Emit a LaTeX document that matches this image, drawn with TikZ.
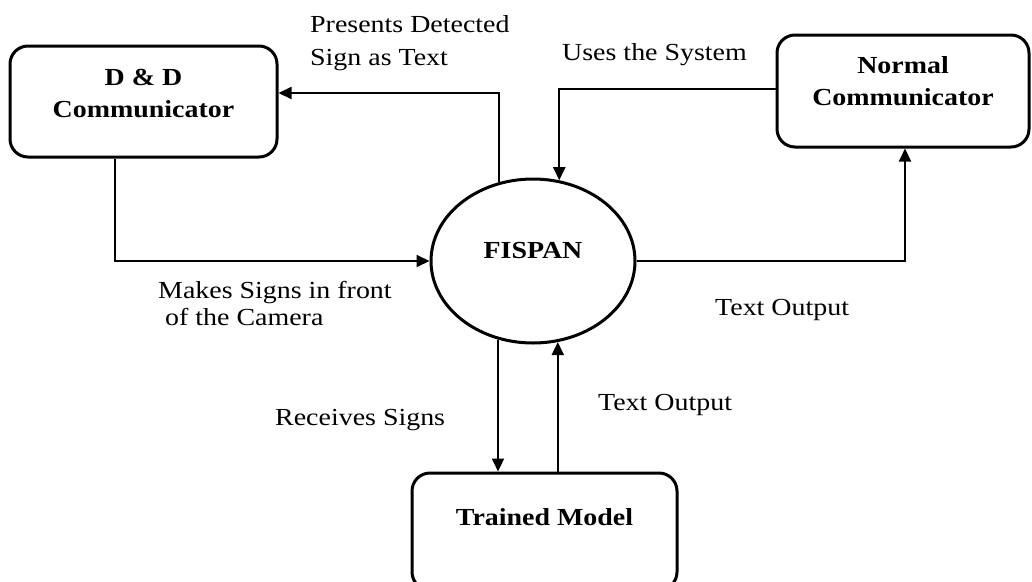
\documentclass[tikz,border=0pt]{standalone}
\usepackage{fontspec}
\setmainfont{Liberation Serif}[FakeStretch=1.14]
\usetikzlibrary{arrows.meta,shapes.geometric}
\begin{document}
\begin{tikzpicture}[x=1pt,y=-1pt,
  box/.style={draw, line width=3pt, rounded corners=18pt, inner sep=0pt},
  boxlbl/.style={font=\fontsize{24.5}{32}\selectfont\bfseries, align=center, inner sep=0pt},
  txt/.style={font=\fontsize{24.5}{33}\selectfont, align=left, inner sep=0pt, anchor=base west},
  arr/.style={line width=2pt, -{Triangle[length=13pt,width=12pt]}}]
\useasboundingbox (0,0) rectangle (1032,581);
\fill[white] (0,0) rectangle (1032,581);
\clip (0,0) rectangle (1032,581);

% boxes
\node[box, minimum width=267pt, minimum height=111pt,
  label={[boxlbl,yshift=8.5pt]center:{D \& D\\Communicator}}] (dd) at (143.5,101.5) {};
\node[box, minimum width=252pt, minimum height=112pt,
  label={[boxlbl,yshift=10.3pt]center:{Normal\\Communicator}}] (nc) at (903,91) {};
\node[box, minimum width=265pt, minimum height=117pt,
  label={[boxlbl,yshift=14.5pt]center:{Trained Model}}] (tm) at (544.5,531.5) {};
\node[draw, ellipse, line width=3pt, minimum width=204pt, minimum height=164pt, inner sep=0pt,
  label={[boxlbl,yshift=10pt]center:{FISPAN}}] (fis) at (533,261) {};

% connectors
\draw[arr] ([xshift=-28.5pt]dd.south) |- (fis.west);
\draw[arr] (fis.113) |- ([yshift=8.5pt]dd.east);
\draw[arr] ([yshift=2pt]nc.west) -| (fis.72);
\draw[arr] (fis.east) -| ([xshift=2pt]nc.south);
\draw[arr] (fis.246) -- (fis.246 |- tm.north);
\draw[arr] (tm.north -| fis.287) -- (fis.287);

% labels
\node[txt] (t1) at (310,65) {Presents Detected\\Sign as Text};
\node[txt] (t2) at (562,60) {Uses the System};
\node[txt] (t3) at (158,325) {Makes Signs in front\\[-6pt]\hspace{7pt}of the Camera};
\node[txt] (t4) at (715,315) {Text Output};
\node[txt] (t5) at (275,425) {Receives Signs};
\node[txt] (t6) at (598,410) {Text Output};
\end{tikzpicture}
\end{document}
